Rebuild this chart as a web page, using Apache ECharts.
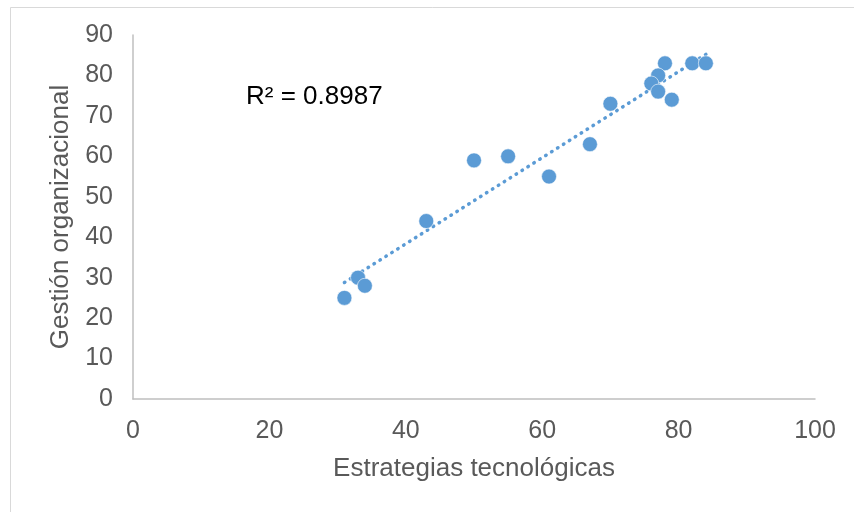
<!DOCTYPE html>
<html>
<head>
<meta charset="utf-8">
<script src="https://cdn.jsdelivr.net/npm/echarts@6/dist/echarts.min.js"></script>
<style>
html,body{margin:0;padding:0;background:#fff;}
#chart{width:854px;height:512px;}
</style>
</head>
<body>
<div id="chart"></div>
<script>
// Data
const estrategias = [31, 33, 34, 43, 50, 55, 61, 67, 70, 78, 77, 76, 77, 79, 82, 84];
const gestion     = [25, 30, 28, 44, 59, 60, 55, 63, 73, 83, 80, 78, 76, 74, 83, 83];
const xTicks = [0, 20, 40, 60, 80, 100];
const yTicks = [0, 10, 20, 30, 40, 50, 60, 70, 80, 90];
const r2Label = 'R² = 0.8987';
const xTitle = 'Estrategias tecnológicas';
const yTitle = 'Gestión organizacional';

// points
const points = estrategias.map((x, i) => [x, gestion[i]]);

// linear trendline (least squares from the data)
const n = estrategias.length;
const mx = estrategias.reduce((a, b) => a + b, 0) / n;
const my = gestion.reduce((a, b) => a + b, 0) / n;
let sxy = 0, sxx = 0;
for (let i = 0; i < n; i++) {
  sxy += (estrategias[i] - mx) * (gestion[i] - my);
  sxx += (estrategias[i] - mx) * (estrategias[i] - mx);
}
const slope = sxy / sxx;
const intercept = my - slope * mx;
const xmin = Math.min(...estrategias), xmax = Math.max(...estrategias);
const trend = [[xmin, intercept + slope * xmin], [xmax, intercept + slope * xmax]];

const FONT = '"Liberation Sans", Arial, sans-serif';
const TXT = '#595959';

const chart = echarts.init(document.getElementById('chart'), null, {renderer: 'canvas'});
chart.setOption({
  animation: false,
  backgroundColor: '#ffffff',
  grid: {left: 133, right: 39, top: 35, bottom: 113, containLabel: false},
  xAxis: {
    type: 'value', min: xTicks[0], max: xTicks[xTicks.length - 1], interval: 20,
    splitLine: {show: false},
    axisTick: {show: false},
    axisLine: {show: true, lineStyle: {color: '#bfbfbf', width: 1.5}},
    axisLabel: {color: TXT, fontFamily: FONT, fontSize: 25, margin: 20},
    name: xTitle, nameLocation: 'middle', nameGap: 57,
    nameTextStyle: {color: TXT, fontFamily: FONT, fontSize: 26}
  },
  yAxis: {
    type: 'value', min: yTicks[0], max: yTicks[yTicks.length - 1], interval: 10,
    splitLine: {show: false},
    axisTick: {show: false},
    axisLine: {show: true, lineStyle: {color: '#bfbfbf', width: 1.5}},
    axisLabel: {color: TXT, fontFamily: FONT, fontSize: 25, margin: 20},
    name: yTitle, nameLocation: 'middle', nameGap: 58, nameRotate: 90,
    nameTextStyle: {color: TXT, fontFamily: FONT, fontSize: 26}
  },
  series: [
    {
      type: 'line', data: trend, showSymbol: false, symbol: 'none',
      lineStyle: {color: '#5b9bd5', width: 3.5, type: [0.5, 6.5], cap: 'round'},
      silent: true, z: 2
    },
    {
      type: 'scatter', data: points, symbol: 'circle', symbolSize: 15,
      itemStyle: {color: '#5b9bd5', borderColor: '#ffffff', borderWidth: 0.6, opacity: 1},
      z: 3
    }
  ],
  graphic: [
    {
      type: 'rect', left: 8, top: 5, z: -10, silent: true,
      shape: {width: 900, height: 600},
      style: {fill: 'none', stroke: '#d9d9d9', lineWidth: 1}
    },
    {
      type: 'text', left: 246, top: 84, z: 10,
      style: {text: r2Label, fill: '#000000', font: '26px "Liberation Sans", Arial, sans-serif'}
    }
  ]
});
</script>
</body>
</html>
